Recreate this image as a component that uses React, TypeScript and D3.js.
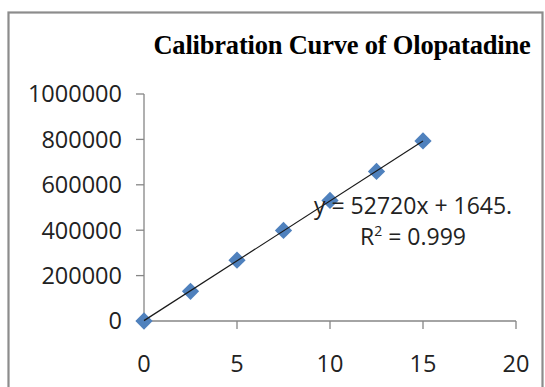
import React from "react";
import * as d3 from "d3";

// Calibration standards: concentration vs. peak area
const concentrations = [0, 2.5, 5, 7.5, 10, 12.5, 15];
const peakAreas = [0, 131000, 268000, 399000, 531000, 659000, 793000];

const xTicks = [0, 5, 10, 15, 20];
const yTicks = [0, 200000, 400000, 600000, 800000, 1000000];

const slope = 52720;
const intercept = 1645;
const titleText = "Calibration Curve of Olopatadine";
const equationText = "y = 52720x + 1645.";
const rSquaredValue = "0.999";

const W = 545;
const H = 387;

export default function App() {
  const x = d3.scaleLinear().domain([0, 20]).range([144, 516]);
  const y = d3.scaleLinear().domain([0, 1000000]).range([321, 94]);

  const axisColor = "#868686";
  const labelFont = "'Open Sans', 'Liberation Sans', sans-serif";
  const textColor = "#222";

  const trend = d3
    .line<number>()
    .x((d) => x(d))
    .y((d) => y(slope * d + intercept));

  const diamond = d3.symbol().type(d3.symbolDiamond2).size(190);

  return (
    <svg
      width={W}
      height={H}
      style={{ position: "absolute", left: 0, top: 0, background: "#fff" }}
    >
      <rect x={0} y={0} width={W} height={H} fill="#fff" />
      {/* chart frame */}
      <rect
        x={8.5}
        y={12.5}
        width={534}
        height={420}
        fill="#fff"
        stroke="#8c8c8c"
        strokeWidth={2.2}
      />

      {/* title */}
      <text
        x={342}
        y={54}
        textAnchor="middle"
        fontFamily="'Liberation Serif', 'Times New Roman', serif"
        fontWeight="bold"
        fontSize={26.5}
        letterSpacing={-0.2}
        fill="#000"
      >
        {titleText}
      </text>

      {/* y axis */}
      <line x1={x(0)} x2={x(0)} y1={y(1000000)} y2={y(0)} stroke={axisColor} strokeWidth={1.3} />
      {yTicks.map((t) => (
        <g key={"y" + t}>
          <line x1={x(0) - 8} x2={x(0)} y1={y(t)} y2={y(t)} stroke={axisColor} strokeWidth={1.3} />
          <text
            x={122}
            y={y(t)}
            dy="0.36em"
            textAnchor="end"
            fontFamily={labelFont}
            fontSize={23.5}
            fill={textColor}
          >
            {t}
          </text>
        </g>
      ))}

      {/* x axis */}
      <line x1={x(0)} x2={x(20)} y1={y(0)} y2={y(0)} stroke={axisColor} strokeWidth={1.3} />
      {xTicks.map((t) => (
        <g key={"x" + t}>
          <line x1={x(t)} x2={x(t)} y1={y(0)} y2={y(0) + 8} stroke={axisColor} strokeWidth={1.3} />
          <text
            x={x(t)}
            y={372}
            textAnchor="middle"
            fontFamily={labelFont}
            fontSize={23.5}
            fill={textColor}
          >
            {t}
          </text>
        </g>
      ))}

      {/* data points */}
      {concentrations.map((c, i) => (
        <path
          key={"p" + i}
          d={diamond() || ""}
          transform={`translate(${x(c)},${y(peakAreas[i])})`}
          fill="#4f81bd"
        />
      ))}

      {/* linear trendline */}
      <path
        d={trend([0, 15]) || ""}
        fill="none"
        stroke="#1a1a1a"
        strokeWidth={1.2}
      />

      {/* regression annotation */}
      <text
        x={314}
        y={214}
        fontFamily={labelFont}
        fontSize={23}
        fill={textColor}
      >
        {equationText}
      </text>
      <text
        x={413}
        y={245}
        textAnchor="middle"
        fontFamily={labelFont}
        fontSize={23}
        fill={textColor}
      >
        R<tspan dy={-9} fontSize={14}>2</tspan>
        <tspan dy={9}> = {rSquaredValue}</tspan>
      </text>
    </svg>
  );
}
